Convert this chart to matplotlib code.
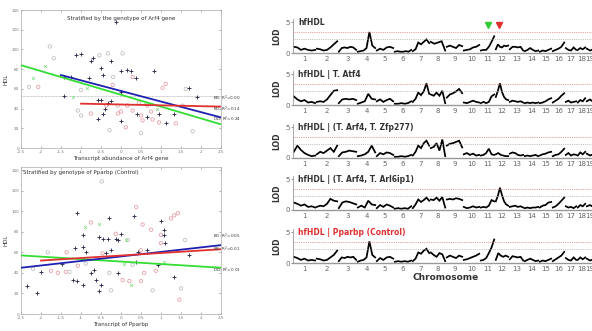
import numpy as np
import matplotlib
matplotlib.use("Agg")
import matplotlib.pyplot as plt

# ---------------- scatter data (left) ----------------
# top: stratified by Arf4 genotype
arf4_bd = [(-1.12, 94), (-1.0, 95), (-0.71, 91), (-0.75, 88), (-0.5, 81), (-0.25, 88), (0.16, 79),
           (0.25, 78), (0.0, 78), (0.37, 71), (0.83, 78), (-0.8, 71), (-0.46, 74), (-1.25, 72),
           (-1.42, 72), (0.0, 57), (1.7, 61), (1.9, 52), (-1.42, 53), (-0.58, 49), (-0.5, 49),
           (-0.25, 48), (-0.41, 40), (0.41, 35), (0.66, 31), (0.95, 35), (1.33, 35), (1.12, 25),
           (-0.58, 29), (0.0, 27), (-0.45, 35), (-0.33, 46), (-0.12, 128)]
arf4_bb = [(-2.07, 62), (0.29, 72), (-0.21, 64), (1.12, 65), (1.04, 61), (-0.37, 43), (0.16, 43),
           (0.45, 46), (0.66, 43), (-0.08, 35), (0.0, 37), (0.5, 33), (0.75, 37), (0.95, 26),
           (0.79, 29), (0.54, 28), (0.29, 38), (0.12, 21), (-0.75, 35), (1.37, 25)]
arf4_gray = [(-1.78, 103), (-1.68, 91), (-0.54, 94), (-0.33, 96), (0.04, 96), (-0.2, 72), (-1.0, 59),
             (1.62, 60), (-0.08, 43), (1.54, 43), (-0.29, 18), (0.5, 15), (-1.0, 33), (-1.08, 38),
             (1.79, 17), (-2.3, 62)]
arf4_dd = [(-2.2, 71), (-0.84, 61), (0.91, 40), (-1.9, 83), (-1.2, 52), (0.6, 45)]
arf4_fits = {"BB": ([-1.0, 2.5], [45, 42]), "BD": ([-1.5, 2.5], [74, 31]), "DD": ([-2.5, 2.5], [84, 24])}
arf4_r2 = {"BB": "0.00", "BD": "0.14", "DD": "0.24"}
arf4_lab_y = {"BB": 46, "BD": 35, "DD": 24}

# bottom: stratified by Pparbp genotype
pp_bd = [(-1.11, 98), (-0.29, 93), (0.33, 95), (1.08, 82), (1.0, 90), (-0.96, 77), (-0.54, 75),
         (-0.46, 73), (-0.33, 73), (-0.13, 73), (-0.08, 72), (0.0, 78), (1.08, 77), (-1.15, 64),
         (-0.96, 65), (-0.88, 60), (-0.38, 59), (-0.25, 62), (0.42, 60), (0.66, 62), (1.1, 69),
         (1.71, 57), (-1.48, 49), (-2.0, 41), (-1.2, 33), (-1.1, 32), (-0.96, 28), (-0.75, 40),
         (-0.67, 43), (-0.62, 33), (-0.5, 28), (-0.54, 22), (-0.08, 40), (0.38, 51), (0.92, 48),
         (1.33, 36), (-2.34, 27), (-2.09, 20)]
pp_bb = [(0.38, 104), (-0.75, 89), (0.54, 87), (0.75, 82), (1.25, 93), (1.33, 96), (1.42, 98),
         (-0.13, 78), (1.0, 77), (-1.36, 60), (0.5, 62), (1.0, 69), (-1.75, 42), (-1.58, 40),
         (-1.38, 41), (0.04, 33), (0.21, 32), (0.5, 32), (0.58, 40), (0.87, 42), (1.46, 14),
         (-1.08, 47), (-0.46, 59)]
pp_gray = [(-0.48, 129), (0.17, 72), (1.6, 72), (-1.29, 41), (-2.2, 44), (-0.88, 49), (-0.25, 23),
           (0.29, 48), (1.5, 25), (0.79, 23), (-0.29, 40), (-1.83, 60)]
pp_dd = [(-0.54, 88), (0.13, 72), (1.08, 51), (0.25, 28), (0.08, 49), (-0.9, 85)]
pp_fits = {"BB": ([-2.0, 2.5], [52, 63]), "BD": ([-2.5, 2.5], [45, 67]), "DD": ([-2.5, 2.5], [57, 45])}
pp_r2 = {"BB": "0.01", "BD": "0.05", "DD": "0.01"}
pp_lab_y = {"BB": 58, "BD": 71, "DD": 38}

# ---------------- LOD data (right) ----------------
chrom_len = [115, 110, 95, 95, 90, 90, 90, 80, 85, 85, 75, 70, 75, 75, 65, 65, 60, 45, 40]
chrom_names = [str(i) for i in range(1, 20)]

lod_hfhdl = [
    [1.0, 0.9, 0.5, 0.7, 0.5, 0.4, 0.5], [0.7, 0.6, 0.4, 0.5, 0.9, 1.4, 1.9],
    [0.2, 0.8, 0.9, 0.8, 1.0, 0.9, 0.5], [0.2, 0.3, 0.4, 0.8, 3.4, 1.2, 0.8],
    [0.4, 0.7, 0.5, 0.9, 1.0, 0.8], [0.2, 0.3, 0.2, 0.2, 0.3, 0.2, 0.5],
    [0.3, 0.6, 1.7, 1.4, 1.8, 2.2, 1.6], [1.8, 1.5, 1.7, 1.9, 0.4],
    [1.0, 1.2, 1.0, 0.8, 1.3, 1.1], [0.4, 0.5, 0.6, 0.9, 1.0, 1.3],
    [0.4, 0.5, 0.5, 1.0, 1.8, 2.7], [0.6, 1.4, 1.0, 0.9, 1.2, 1.1, 1.2],
    [0.6, 1.0, 1.0, 0.9, 1.0, 0.4], [0.3, 0.5, 0.8, 0.5, 0.3, 0.4],
    [0.2, 0.4, 0.3, 0.5, 0.7], [0.3, 0.5, 0.7, 1.0, 1.7],
    [0.8, 0.5, 0.4, 0.9, 0.5], [0.5, 0.8, 0.6, 0.9], [0.7, 0.4, 0.6]]
lod_atf4 = [
    [1.4, 0.9, 0.6, 0.8, 0.4, 0.5, 0.3], [0.5, 0.6, 0.5, 0.9, 1.6, 2.3, 2.4],
    [0.3, 0.9, 1.0, 0.9, 1.0, 0.8], [0.2, 0.4, 0.6, 1.8, 1.0, 0.9],
    [0.6, 0.9, 0.5, 0.8, 1.0, 0.6], [0.2, 0.2, 0.3, 0.2, 0.3, 0.6],
    [0.5, 1.0, 2.0, 1.6, 2.2, 3.5, 1.8], [1.7, 1.5, 2.0, 1.5, 2.3, 0.3],
    [1.2, 1.7, 1.9, 2.2, 2.6, 1.9], [0.4, 0.3, 0.5, 0.7, 0.5, 0.4],
    [0.3, 0.5, 0.3, 0.5, 1.4, 1.7], [1.3, 2.3, 3.5, 2.1, 1.3, 0.9, 0.8],
    [0.5, 0.7, 0.6, 0.5, 0.6, 0.4], [0.3, 0.4, 0.3, 0.4, 0.3, 0.4],
    [0.3, 0.4, 0.6, 0.9, 1.1], [0.4, 0.7, 1.0, 1.5, 1.9],
    [0.5, 0.7, 0.4, 0.5, 0.6], [0.4, 0.8, 0.6, 1.1], [0.6, 0.9, 0.5]]
lod_zfp277 = [
    [1.0, 2.0, 1.3, 0.8, 0.5, 0.3, 0.4], [0.6, 1.0, 0.8, 1.2, 1.6, 1.0, 2.0],
    [0.3, 0.9, 1.0, 1.2, 1.1, 1.0], [0.3, 0.4, 0.6, 1.0, 2.0, 0.9],
    [0.3, 0.8, 0.6, 0.9, 0.8, 0.5], [0.2, 0.2, 0.3, 0.2, 0.3, 0.5],
    [0.4, 1.0, 2.0, 1.6, 2.4, 2.8, 2.0], [1.6, 1.8, 2.4, 1.2, 3.0, 0.3],
    [2.0, 2.3, 2.4, 2.6, 2.8, 1.7], [0.6, 0.8, 0.5, 0.7, 0.4, 0.5],
    [0.4, 0.5, 0.8, 1.5, 0.6, 0.5], [0.6, 0.8, 0.5, 0.4, 0.3, 0.3],
    [0.7, 0.9, 0.8, 0.5, 0.4, 0.5], [0.3, 0.4, 0.3, 0.4, 0.5, 0.3],
    [0.4, 0.6, 0.7, 0.9, 1.0], [0.3, 0.5, 0.6, 1.0, 1.5],
    [0.5, 0.8, 0.4, 0.6, 0.5], [0.4, 0.9, 0.6, 1.0], [0.7, 0.4, 0.6]]
lod_arl6ip1 = [
    [1.2, 1.0, 0.7, 0.9, 0.5, 0.6, 0.4], [0.5, 0.7, 0.6, 1.0, 1.8, 1.5, 1.4],
    [0.3, 1.2, 1.4, 1.3, 1.1, 0.9], [0.4, 0.7, 0.4, 1.5, 0.9, 0.8],
    [0.3, 0.8, 0.5, 0.9, 0.7, 0.4], [0.2, 0.3, 0.2, 0.3, 0.2, 0.6],
    [0.3, 0.9, 1.7, 1.3, 1.6, 2.0, 1.5], [1.7, 1.6, 2.0, 1.5, 2.1, 0.4],
    [1.7, 1.8, 1.7, 1.9, 1.8, 1.6], [0.5, 0.3, 0.4, 0.6, 0.4, 0.5],
    [0.4, 0.5, 0.4, 0.7, 1.6, 1.4], [1.4, 2.3, 3.6, 2.4, 1.4, 0.9, 0.7],
    [0.5, 0.6, 0.7, 0.5, 0.6, 0.4], [0.3, 0.4, 0.3, 0.4, 0.4, 0.5],
    [0.4, 0.7, 0.8, 1.2, 1.3], [0.4, 0.6, 1.0, 1.5, 2.0],
    [0.6, 0.4, 0.5, 0.3, 0.6], [0.4, 0.8, 0.6, 1.0], [0.6, 0.8, 0.5]]
lod_pparbp = [
    [1.0, 0.8, 0.5, 0.7, 0.4, 0.5, 0.4], [0.7, 0.6, 0.4, 0.5, 0.9, 1.3, 2.0],
    [0.3, 0.9, 0.8, 1.0, 0.9, 1.0, 0.5], [0.2, 0.4, 0.5, 0.9, 3.5, 1.3, 0.9],
    [0.3, 0.8, 0.5, 0.9, 1.0, 0.7], [0.2, 0.3, 0.2, 0.3, 0.2, 0.4],
    [0.3, 0.7, 1.7, 1.5, 2.0, 2.3, 1.6], [1.7, 1.3, 1.0, 1.6, 1.4, 0.3],
    [0.9, 1.2, 1.0, 0.8, 1.2, 1.0], [0.5, 0.6, 0.8, 1.0, 1.2, 1.5],
    [0.4, 0.5, 0.8, 1.6, 2.5, 3.8], [0.5, 1.6, 1.2, 1.0, 1.2, 1.0],
    [0.6, 1.1, 1.0, 0.9, 1.0, 0.4], [0.3, 0.5, 0.7, 0.5, 0.3, 0.4],
    [0.2, 0.4, 0.3, 0.5, 0.7], [0.3, 0.6, 0.9, 1.2, 1.8],
    [0.8, 0.5, 0.4, 0.9, 0.5], [0.5, 0.9, 0.6, 0.9], [0.7, 0.4, 0.6]]

panel_titles = ["hfHDL", "hfHDL | T. Atf4", "hfHDL | (T. Arf4, T. Zfp277)",
                "hfHDL | (T. Arf4, T. Arl6ip1)", "hfHDL | Pparbp (Control)"]
panel_lods = [lod_hfhdl, lod_atf4, lod_zfp277, lod_arl6ip1, lod_pparbp]
thr_red = 3.4
thr_gray = 2.3
arrows = [(11, 40, "#33cc33"), (12, 20, "#e03030")]   # (chrom, cM, colour) on first panel

C_BLUE = "#2020b0"
C_RED = "#e03030"
C_GREEN = "#33dd33"
C_PINK = "#e8a0a8"
C_GRAY = "#b5b5b5"
C_DARK = "#222244"

fig = plt.figure(figsize=(5.92, 3.31), dpi=100)


def scatter_panel(ax, bd, bb, gray, dd, fits, r2, lab_y, title, xlabel, title_left):
    for pts, kw in [(gray, dict(marker="o", s=6, facecolors="none", edgecolors=C_GRAY, linewidths=0.5)),
                    (bb, dict(marker="o", s=6, facecolors="none", edgecolors=C_PINK, linewidths=0.6)),
                    (bd, dict(marker="+", s=5, color=C_DARK, linewidths=0.6)),
                    (dd, dict(marker="x", s=4, color="#77dd77", linewidths=0.5))]:
        xy = np.array(pts)
        ax.scatter(xy[:, 0], xy[:, 1], zorder=2, **kw)
    cols = {"BB": C_RED, "BD": C_BLUE, "DD": C_GREEN}
    for g in ["DD", "BD", "BB"]:
        ax.plot(fits[g][0], fits[g][1], color=cols[g], lw=1.3, zorder=3)
        ax.text(2.3, lab_y[g], "%s: R$^2$=%s" % (g, r2[g]), fontsize=3, color="#333333",
                va="bottom", ha="left", zorder=4)
    ax.set_xlim(-2.5, 2.5)
    ax.set_xticks([-2.5, -2, -1.5, -1, -0.5, 0, 0.5, 1, 1.5, 2, 2.5])
    ax.set_xticklabels(["-2.5", "-2", "-1.5", "-1", "-0.5", "0", "0.5", "1", "1.5", "2", "2.5"])
    ax.set_yticks([0, 20, 40, 60, 80, 100, 120, 140])
    ax.tick_params(direction="in", top=True, right=True, labelsize=3, length=1.5, width=0.4,
                   colors="#777777", pad=1.5)
    for s in ax.spines.values():
        s.set_color("#aaaaaa")
        s.set_linewidth(0.5)
    ax.set_xlabel(xlabel, fontsize=4, color="#333333", labelpad=1.5)
    ax.set_ylabel("HDL", fontsize=4, color="#333333", labelpad=2)
    if title_left:
        ax.text(0.01, 0.965, title, transform=ax.transAxes, fontsize=4, color="#333333",
                ha="left", va="center")
    else:
        ax.text(0.5, 0.935, title, transform=ax.transAxes, fontsize=4, color="#333333",
                ha="center", va="center")


ax1 = fig.add_axes([21 / 592, 1 - 148 / 331, 200 / 592, 138 / 331])
scatter_panel(ax1, arf4_bd, arf4_bb, arf4_gray, arf4_dd, arf4_fits, arf4_r2, arf4_lab_y,
              "Stratified by the genotype of Arf4 gene", "Transcript abundance of Arf4 gene", False)
ax1.set_ylim(0, 140)
ax1.axhline(53, color="#999999", lw=0.5, ls=(0, (1, 1)), zorder=1)

ax2 = fig.add_axes([21 / 592, 1 - 314 / 331, 200 / 592, 147 / 331])
scatter_panel(ax2, pp_bd, pp_bb, pp_gray, pp_dd, pp_fits, pp_r2, pp_lab_y,
              "Stratified by genotype of Pparbp (Control)", "Transcript of Pparbp", True)
ax2.set_ylim(0, 143)

# ---------------- LOD panels ----------------
starts = np.concatenate([[0], np.cumsum(chrom_len)[:-1]])
centers = starts + np.array(chrom_len) / 2.0
total = sum(chrom_len)
base_px = [53, 105, 158, 210, 263]
for i, (title, lods) in enumerate(zip(panel_titles, panel_lods)):
    ax = fig.add_axes([293 / 592, 1 - base_px[i] / 331, (total + 25) * 0.2 / 592, 34 / 331])
    for c in range(len(chrom_len)):
        v = lods[c]
        xs = np.linspace(starts[c] + 4, starts[c] + chrom_len[c] - 4, len(v))
        ax.plot(xs, v, color="black", lw=1.25, solid_joinstyle="miter")
    ax.axhline(thr_red, color="#e08080", lw=0.6, ls=(0, (1, 1.2)))
    ax.axhline(thr_gray, color="#b0b0b0", lw=0.6, ls=(0, (1, 1.2)))
    ax.set_xlim(0, total + 25)
    ax.set_ylim(0, 5.5)
    ax.set_yticks([0, 5])
    ax.set_xticks(centers)
    ax.set_xticklabels(chrom_names)
    ax.tick_params(axis="x", length=0, labelsize=5, colors="#666666", pad=2)
    ax.tick_params(axis="y", length=1.5, width=0.5, labelsize=5, colors="#666666", pad=1)
    for s in ["top", "right"]:
        ax.spines[s].set_visible(False)
    ax.spines["left"].set_color("#999999")
    ax.spines["left"].set_linewidth(0.6)
    ax.spines["bottom"].set_color("#999999")
    ax.spines["bottom"].set_linewidth(1.0)
    ax.set_ylabel("LOD", fontsize=5.5, fontweight="bold", color="#333333", labelpad=3)
    ax.text(25, 5.0, title, fontsize=5.5, fontweight="bold", va="center", ha="left",
            color=C_RED if i == 4 else "#333333")
    if i == 0:
        for ch, cm, col in arrows:
            ax.plot(starts[ch - 1] + cm, 4.5, marker="v", ms=4, color=col, mec=col, clip_on=False)
    if i == 4:
        ax.set_xlabel("Chromosome", fontsize=6.5, fontweight="bold", color="#333333",
                      labelpad=1, x=0.5)

fig.savefig("out.png", dpi=100)
